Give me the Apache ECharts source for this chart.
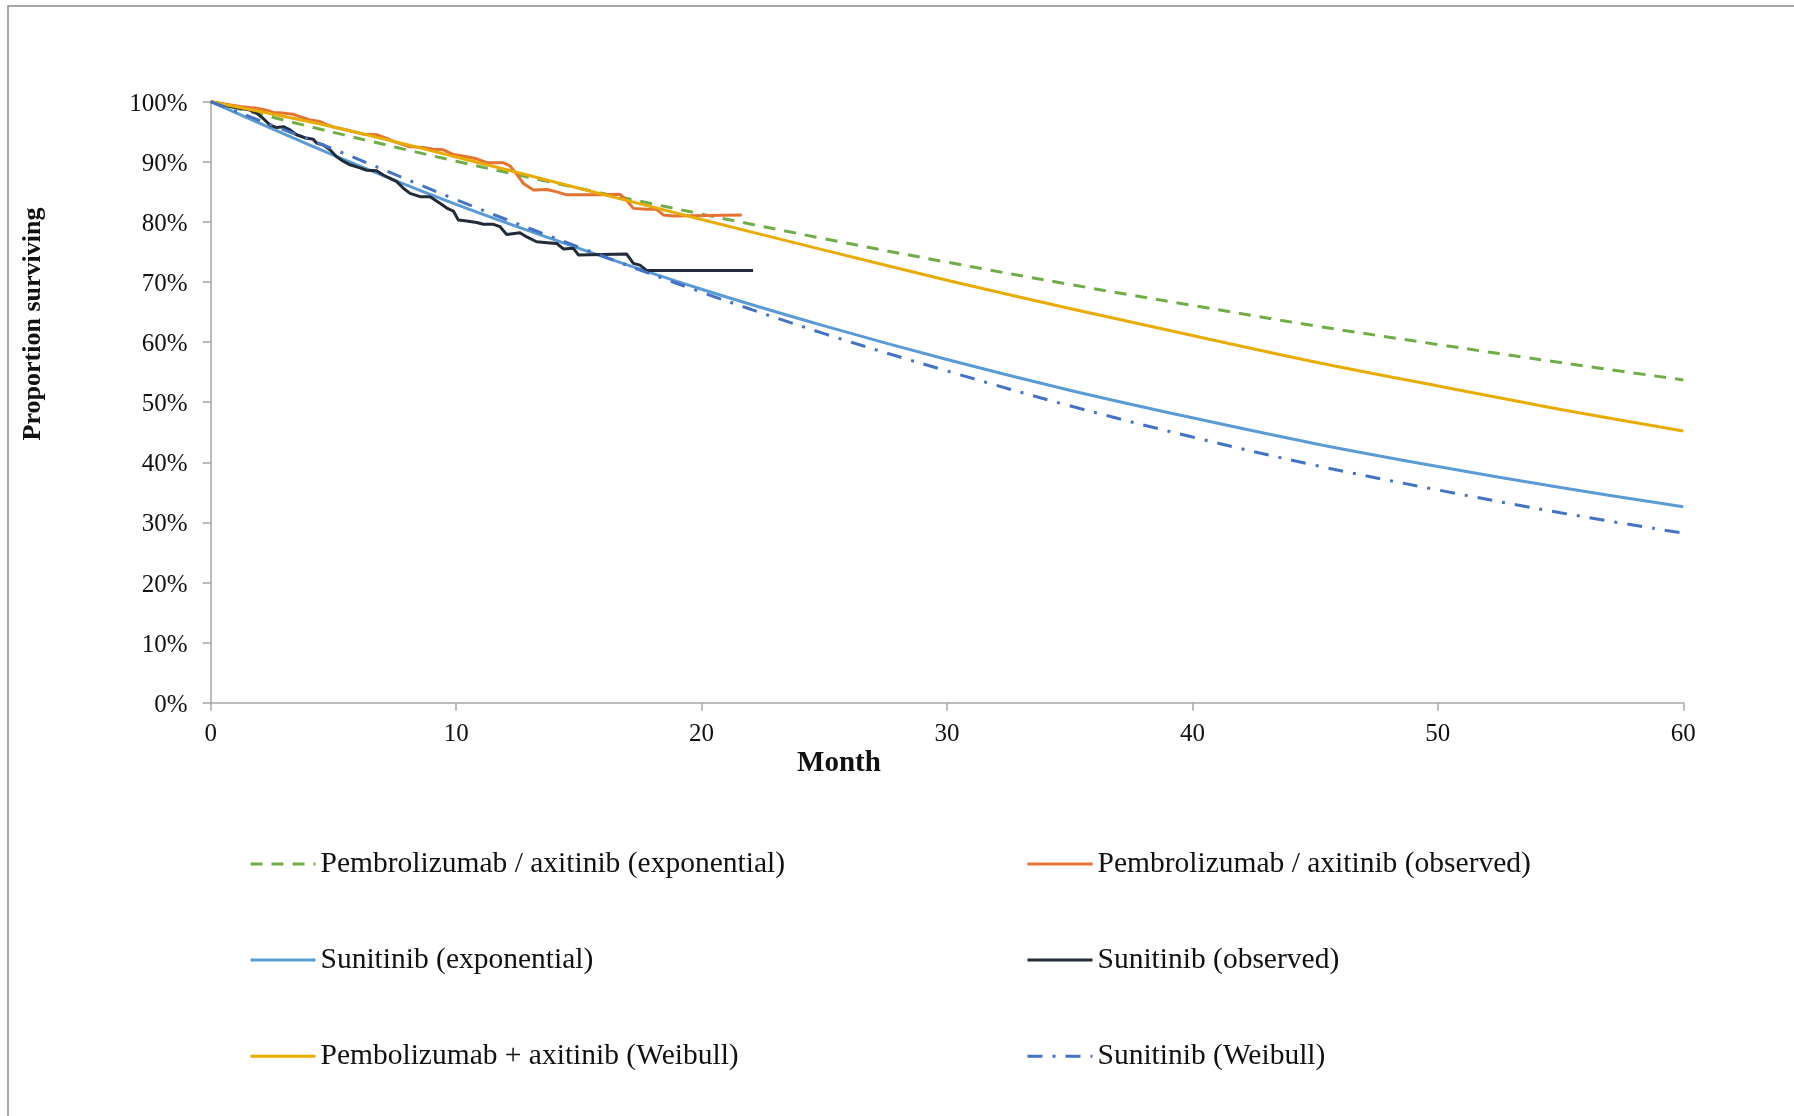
<!DOCTYPE html>
<html>
<head>
<meta charset="utf-8">
<script src="https://cdn.jsdelivr.net/npm/echarts@6/dist/echarts.min.js"></script>
<style>
html,body{margin:0;padding:0;background:#fff;}
#chart{width:1794px;height:1116px;}
</style>
</head>
<body>
<div id="chart"></div>
<script>
// ---- data ----
const xTicks = [0, 10, 20, 30, 40, 50, 60];
const yTicks = [0, 10, 20, 30, 40, 50, 60, 70, 80, 90, 100];

const fitMonths = [0, 5, 10, 15, 20, 25, 30, 35, 40, 45, 50, 55, 60];
const pembroExp   = [100, 94.9, 90.1, 85.6, 81.3, 77.2, 73.3, 69.6, 66.1, 62.7, 59.6, 56.6, 53.7];
const sunitExp    = [100, 91.1, 82.9, 75.6, 68.8, 62.7, 57.1, 52.0, 47.4, 43.1, 39.3, 35.8, 32.6];
const pembroWeib  = [100, 95.8, 90.8, 85.6, 80.4, 75.3, 70.3, 65.6, 61.1, 56.7, 52.7, 48.8, 45.2];
const sunitWeib   = [100, 92.1, 83.7, 75.8, 68.3, 61.4, 55.2, 49.4, 44.2, 39.5, 35.4, 31.6, 28.2];

const pembroObsMonths = [0, 1.19, 1.87, 2.28, 2.55, 2.96, 3.37, 3.64, 4.05, 4.45, 4.73, 5.0, 5.54, 6.22, 6.76, 7.17, 7.58, 8.12, 8.66, 9.07, 9.48, 9.89, 10.43, 10.84, 11.25, 11.92, 12.2, 12.47, 12.74, 13.15, 13.7, 14.1, 14.5, 15.86, 16.68, 16.95, 17.22, 17.77, 18.17, 18.44, 18.85, 21.64];
const pembroObs       = [100, 99.2, 98.9, 98.6, 98.2, 98.1, 97.9, 97.5, 96.95, 96.7, 96.2, 95.8, 95.3, 94.6, 94.5, 93.9, 93.2, 92.5, 92.4, 92.1, 92.0, 91.2, 90.85, 90.5, 89.85, 89.85, 89.3, 87.9, 86.4, 85.3, 85.4, 85.0, 84.5, 84.5, 84.6, 83.6, 82.25, 82.1, 82.1, 81.15, 81.0, 81.15];

const sunitObsMonths = [0, 0.79, 1.19, 1.60, 1.87, 2.14, 2.42, 2.69, 2.96, 3.23, 3.50, 3.84, 4.18, 4.32, 4.59, 4.86, 5.13, 5.40, 5.68, 6.08, 6.36, 6.76, 7.03, 7.31, 7.58, 7.85, 8.12, 8.53, 8.94, 9.34, 9.62, 9.89, 10.09, 10.43, 10.84, 11.11, 11.52, 11.79, 12.06, 12.6, 12.88, 13.28, 13.83, 14.1, 14.37, 14.78, 14.98, 16.95, 17.22, 17.49, 17.77, 22.1];
const sunitObs       = [100, 99.2, 98.9, 98.6, 98.1, 97.2, 96.1, 95.7, 95.85, 95.3, 94.5, 94.0, 93.75, 93.1, 92.8, 92.0, 90.85, 90.1, 89.5, 89.0, 88.6, 88.5, 87.8, 87.25, 86.7, 85.6, 84.75, 84.2, 84.2, 83.1, 82.3, 81.8, 80.3, 80.15, 79.9, 79.6, 79.6, 79.2, 77.9, 78.2, 77.5, 76.7, 76.5, 76.4, 75.5, 75.6, 74.5, 74.65, 73.1, 72.8, 71.9, 71.9];

const names = [
  'Pembrolizumab / axitinib (exponential)',
  'Pembrolizumab / axitinib (observed)',
  'Sunitinib (exponential)',
  'Sunitinib (observed)',
  'Pembolizumab + axitinib (Weibull)',
  'Sunitinib (Weibull)'
];

const zip = (xs, ys) => xs.map((x, i) => [x, ys[i]]);
const FONT = "'Liberation Serif', 'Times New Roman', serif";

const chart = echarts.init(document.getElementById('chart'), null, {renderer: 'canvas'});

function leg(name, left, cy) {
  return {
    data: [{name: name, itemStyle: {opacity: 0}}], left: left, top: cy - 13.5, orient: 'horizontal',
    itemWidth: 65, itemHeight: 14, padding: 0,
    selectedMode: false,
    itemStyle: {opacity: 0},
    lineStyle: {width: 3},
    textStyle: {fontFamily: FONT, fontSize: 29.5, color: '#111', lineHeight: 32}
  };
}

const option = {
  backgroundColor: '#ffffff',
  animation: false,
  grid: {left: 210.7, right: 110.7, top: 101.7, bottom: 413.3, outerBoundsMode: 'none', containLabel: false},
  xAxis: {
    type: 'value', min: 0, max: 60, interval: 10,
    axisLine: {show: true, lineStyle: {color: '#A6A6A6', width: 1.5}},
    axisTick: {show: true, inside: false, length: 8, lineStyle: {color: '#A6A6A6', width: 1.5}},
    splitLine: {show: false},
    axisLabel: {margin: 19, fontFamily: FONT, fontSize: 25, color: '#111',
      formatter: v => xTicks.includes(v) ? String(v) : ''}
  },
  yAxis: {
    type: 'value', min: 0, max: 100, interval: 10,
    axisLine: {show: true, lineStyle: {color: '#A6A6A6', width: 1.5}},
    axisTick: {show: true, inside: false, length: 8, lineStyle: {color: '#A6A6A6', width: 1.5}},
    splitLine: {show: false},
    axisLabel: {margin: 23, fontFamily: FONT, fontSize: 25, color: '#111',
      formatter: v => yTicks.includes(v) ? '{a|' + v + '%}' : '',
      rich: {a: {fontFamily: FONT, fontSize: 25, color: '#111', padding: [5, 0, 0, 0]}}}
  },
  legend: [
    leg(names[0], 249, 861.5),
    leg(names[1], 1026, 861.5),
    leg(names[2], 249, 957.6),
    leg(names[3], 1026, 957.6),
    leg(names[4], 249, 1053.7),
    leg(names[5], 1026, 1053.7)
  ],
  graphic: [
    {type: 'rect', z: -10, silent: true, shape: {x: 8, y: 6, width: 1900, height: 1300},
      style: {fill: 'none', stroke: '#8c8c8c', lineWidth: 1.5}},
    {type: 'text', x: 839, y: 764, silent: true,
      style: {text: 'Month', font: 'bold 29px ' + FONT, fill: '#111', textAlign: 'center', textVerticalAlign: 'middle'}},
    {type: 'text', x: 33.5, y: 324, rotation: Math.PI / 2, silent: true,
      style: {text: 'Proportion surviving', font: 'bold 26px ' + FONT, fill: '#111', textAlign: 'center', textVerticalAlign: 'middle'}}
  ],
  series: [
    {name: names[0], type: 'line', data: zip(fitMonths, pembroExp), smooth: 0.35,
      symbol: 'none', showSymbol: false, lineStyle: {color: '#70AD47', width: 3, type: [12, 9]}, itemStyle: {color: '#70AD47'}},
    {name: names[1], type: 'line', data: zip(pembroObsMonths, pembroObs),
      symbol: 'none', showSymbol: false, lineStyle: {color: '#E57332', width: 3}, itemStyle: {color: '#E57332'}},
    {name: names[2], type: 'line', data: zip(fitMonths, sunitExp), smooth: 0.35,
      symbol: 'none', showSymbol: false, lineStyle: {color: '#5B9BD5', width: 3}, itemStyle: {color: '#5B9BD5'}},
    {name: names[3], type: 'line', data: zip(sunitObsMonths, sunitObs),
      symbol: 'none', showSymbol: false, lineStyle: {color: '#222B38', width: 3}, itemStyle: {color: '#222B38'}},
    {name: names[4], type: 'line', data: zip(fitMonths, pembroWeib), smooth: 0.35,
      symbol: 'none', showSymbol: false, lineStyle: {color: '#E8AC00', width: 3}, itemStyle: {color: '#E8AC00'}},
    {name: names[5], type: 'line', data: zip(fitMonths, sunitWeib), smooth: 0.35,
      symbol: 'none', showSymbol: false, lineStyle: {color: '#4472C4', width: 3, type: [15, 10, 3, 10]}, itemStyle: {color: '#4472C4'}}
  ]
};
chart.setOption(option);
</script>
</body>
</html>
